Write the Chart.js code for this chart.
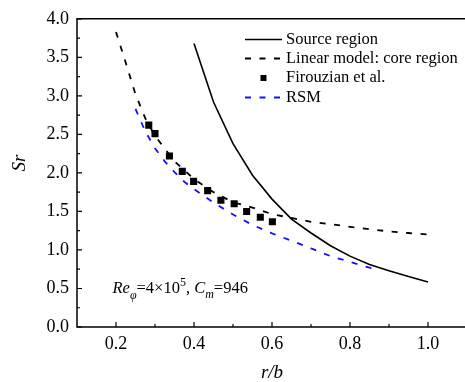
<!DOCTYPE html>
<html>
<head>
<meta charset="utf-8">
<script src="https://cdn.jsdelivr.net/npm/chart.js@4.4.0/dist/chart.umd.min.js"></script>
<style>
  html, body { margin: 0; padding: 0; background: #fff; overflow: hidden; }
  #wrap { width: 472px; height: 382px; }
</style>
</head>
<body>
<div id="wrap"><canvas id="grafico" width="472" height="382"></canvas></div>
<script>
// datos
const seriesNames = ["Source region", "Linear model: core region", "Firouzian et al.", "RSM"];

const sourceX = [0.40, 0.425, 0.45, 0.50, 0.55, 0.60, 0.65, 0.70, 0.75, 0.80, 0.85, 0.90, 0.95, 1.00];
const sourceY = [3.68, 3.30, 2.92, 2.38, 1.97, 1.66, 1.40, 1.22, 1.055, 0.92, 0.81, 0.73, 0.655, 0.585];

const linearX = [0.20, 0.225, 0.25, 0.275, 0.30, 0.35, 0.40, 0.45, 0.50, 0.55, 0.60, 0.65, 0.70, 0.75, 0.80, 0.85, 0.90, 0.95, 1.00];
const linearY = [3.83, 3.43, 3.02, 2.71, 2.48, 2.15, 1.92, 1.75, 1.62, 1.55, 1.465, 1.415, 1.365, 1.335, 1.30, 1.27, 1.24, 1.22, 1.20];

const firouzianX = [0.284, 0.300, 0.337, 0.370, 0.399, 0.435, 0.469, 0.503, 0.535, 0.570, 0.601];
const firouzianY = [2.62, 2.51, 2.22, 2.02, 1.89, 1.77, 1.645, 1.60, 1.50, 1.425, 1.367];

const rsmX = [0.25, 0.275, 0.30, 0.325, 0.35, 0.375, 0.40, 0.45, 0.50, 0.55, 0.60, 0.65, 0.70, 0.75, 0.80, 0.85, 0.875];
const rsmY = [2.83, 2.54, 2.32, 2.15, 2.01, 1.885, 1.79, 1.615, 1.46, 1.325, 1.215, 1.12, 1.02, 0.92, 0.845, 0.77, 0.735];

// ejes
const xTicks = [0.2, 0.4, 0.6, 0.8, 1.0];
const xMinorTicks = [0.3, 0.5, 0.7, 0.9];
const yTicks = [0.0, 0.5, 1.0, 1.5, 2.0, 2.5, 3.0, 3.5, 4.0];
const yMinorTicks = [0.25, 0.75, 1.25, 1.75, 2.25, 2.75, 3.25, 3.75];

const fuente = '"Liberation Serif", "Times New Roman", serif';

const toPoints = (xs, ys) => xs.map((x, i) => ({ x: x, y: ys[i] }));

const ejesPlugin = {
  id: "ejes",
  afterDraw(chart) {
    const { ctx, chartArea: a, scales: { x, y } } = chart;
    ctx.save();
    ctx.strokeStyle = "#000";
    ctx.lineWidth = 1.5;

    // marco: arriba, izquierda, abajo
    ctx.beginPath();
    ctx.moveTo(a.right, a.top);
    ctx.lineTo(a.left, a.top);
    ctx.lineTo(a.left, a.bottom);
    ctx.lineTo(a.right, a.bottom);
    ctx.stroke();

    // marcas hacia dentro
    ctx.lineWidth = 1.2;
    ctx.beginPath();
    xTicks.forEach((v) => { const px = x.getPixelForValue(v); ctx.moveTo(px, a.bottom); ctx.lineTo(px, a.bottom - 5); });
    xMinorTicks.forEach((v) => { const px = x.getPixelForValue(v); ctx.moveTo(px, a.bottom); ctx.lineTo(px, a.bottom - 3); });
    yTicks.forEach((v) => { const py = y.getPixelForValue(v); ctx.moveTo(a.left, py); ctx.lineTo(a.left + 5, py); });
    yMinorTicks.forEach((v) => { const py = y.getPixelForValue(v); ctx.moveTo(a.left, py); ctx.lineTo(a.left + 3, py); });
    ctx.stroke();

    // titulos de ejes
    ctx.fillStyle = "#000";
    ctx.font = "italic 19px " + fuente;
    ctx.textAlign = "center";
    ctx.textBaseline = "middle";
    ctx.fillText("r/b", x.getPixelForValue((x.min + x.max) / 2), 373);
    ctx.save();
    ctx.translate(20, 163);
    ctx.rotate(-Math.PI / 2);
    ctx.fillText("Sr", 0, 0);
    ctx.restore();

    // leyenda
    const ds = chart.data.datasets;
    const filas = [39.5, 58.5, 78, 97.5];
    ctx.font = "16.5px " + fuente;
    ctx.textAlign = "left";
    ds.forEach((d, i) => {
      const fy = filas[i];
      if (d.showLine) {
        ctx.strokeStyle = d.borderColor;
        ctx.lineWidth = d.borderWidth;
        ctx.setLineDash(d.borderDash || []);
        ctx.beginPath();
        ctx.moveTo(245, fy);
        ctx.lineTo(282, fy);
        ctx.stroke();
        ctx.setLineDash([]);
      } else {
        ctx.fillStyle = d.pointBackgroundColor;
        ctx.fillRect(260.5, fy - 3, 6, 6);
      }
      ctx.fillStyle = "#000";
      ctx.fillText(d.label, 286, fy);
    });

    // anotacion Re_phi, C_m
    const partes = [
      { t: "Re", st: "italic ", dy: 0, s: 16.5 },
      { t: "\u03c6", st: "italic ", dy: 6, s: 12 },
      { t: "=4\u00d710", st: "", dy: 0, s: 16.5 },
      { t: "5", st: "", dy: -7, s: 12 },
      { t: ", ", st: "", dy: 0, s: 16.5 },
      { t: "C", st: "italic ", dy: 0, s: 16.5 },
      { t: "m", st: "italic ", dy: 5, s: 12 },
      { t: "=946", st: "", dy: 0, s: 16.5 },
    ];
    let px = 112.5;
    ctx.textBaseline = "alphabetic";
    partes.forEach((p) => {
      ctx.font = p.st + p.s + "px " + fuente;
      ctx.fillText(p.t, px, 293 + p.dy);
      px += ctx.measureText(p.t).width;
    });

    ctx.restore();
  },
};

const chart = new Chart(document.getElementById("grafico").getContext("2d"), {
  type: "scatter",
  data: {
    datasets: [
      {
        label: seriesNames[0],
        data: toPoints(sourceX, sourceY),
        showLine: true,
        borderColor: "#000",
        borderWidth: 1.6,
        pointRadius: 0,
        tension: 0,
        order: 1,
      },
      {
        label: seriesNames[1],
        data: toPoints(linearX, linearY),
        showLine: true,
        borderColor: "#000",
        borderWidth: 1.8,
        borderDash: [6, 8.5],
        pointRadius: 0,
        tension: 0,
        order: 1,
      },
      {
        label: seriesNames[2],
        data: toPoints(firouzianX, firouzianY),
        showLine: false,
        pointStyle: "rect",
        pointRadius: 5,
        pointBackgroundColor: "#000",
        pointBorderColor: "#000",
        pointBorderWidth: 0,
        order: 0,
      },
      {
        label: seriesNames[3],
        data: toPoints(rsmX, rsmY),
        showLine: true,
        borderColor: "#1010ff",
        borderWidth: 1.8,
        borderDash: [6, 8.5],
        pointRadius: 0,
        tension: 0,
        order: 1,
      },
    ],
  },
  options: {
    responsive: false,
    animation: false,
    events: [],
    layout: { padding: { top: 15, right: 2, left: 0, bottom: 0 } },
    plugins: {
      legend: { display: false },
      tooltip: { enabled: false },
    },
    scales: {
      x: {
        type: "linear",
        min: 0.1,
        max: 1.1,
        afterBuildTicks: (scale) => { scale.ticks = xTicks.map((v) => ({ value: v })); },
        afterFit: (scale) => { scale.height = 55; },
        grid: { display: false, drawTicks: false },
        border: { display: false },
        ticks: {
          color: "#000",
          padding: 6,
          maxRotation: 0,
          font: { family: fuente, size: 18 },
          callback: (v) => Number(v).toFixed(1),
        },
      },
      y: {
        type: "linear",
        min: 0,
        max: 4,
        afterBuildTicks: (scale) => { scale.ticks = yTicks.map((v) => ({ value: v })); },
        afterFit: (scale) => { scale.width = 77; },
        grid: { display: false, drawTicks: false },
        border: { display: false },
        ticks: {
          color: "#000",
          padding: 8,
          font: { family: fuente, size: 18 },
          callback: (v) => Number(v).toFixed(1),
        },
      },
    },
  },
  plugins: [ejesPlugin],
});
</script>
</body>
</html>
